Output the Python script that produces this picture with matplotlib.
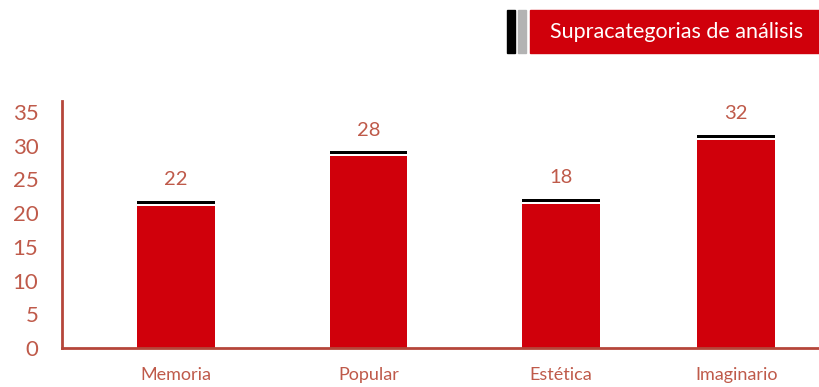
import matplotlib.pyplot as plt
from matplotlib.patches import Rectangle

categories = ["Memoria", "Popular", "Estética", "Imaginario"]
bar_heights = [21.0, 28.4, 21.4, 30.8]
value_labels = ["22", "28", "18", "32"]
yticks = [0, 5, 10, 15, 20, 25, 30, 35]
title = "Supracategorias de análisis"

positions = [0, 1, 2, 2.91]
red = "#d0000b"
axis_col = "#b5463a"
text_col = "#bf5a4a"
font = ["Lato", "DejaVu Sans"]
plt.rcParams['font.family'] = font

fig = plt.figure(figsize=(8.2, 3.87), dpi=100)
ax = fig.add_axes([62 / 820, 39 / 387, 1 - 62 / 820, (348 - 101) / 387])

w = 0.405
ax.bar(positions, bar_heights, width=w, color=red, zorder=2)
caps = [h + 0.3 for h in bar_heights]
ax.bar(positions, [0.45] * 4, bottom=caps, width=w, color="black", zorder=2)

for x, h, lab in zip(positions, bar_heights, value_labels):
    ax.text(x, h + 3.9, lab, ha="center", va="center", fontsize=14.5,
            color=text_col)

ax.set_xlim(-0.592, 3.345)
ax.set_ylim(0, 36.6)
ax.set_yticks(yticks)
ax.set_yticklabels([str(t) for t in yticks], fontsize=16, color=text_col)
ax.set_xticks(positions)
ax.set_xticklabels(categories, fontsize=13, color=text_col)
ax.tick_params(axis="both", length=0)
ax.tick_params(axis="y", pad=17)
ax.tick_params(axis="x", pad=14)

for s in ["top", "right"]:
    ax.spines[s].set_visible(False)
for s in ["left", "bottom"]:
    ax.spines[s].set_color(axis_col)
    ax.spines[s].set_linewidth(2)

# title box at top right
H = 387
fig.patches.append(Rectangle((507 / 820, 1 - 53 / H), 8 / 820, 43 / H,
                             transform=fig.transFigure, color="black"))
fig.patches.append(Rectangle((518 / 820, 1 - 53 / H), 8 / 820, 43 / H,
                             transform=fig.transFigure, color="#b3b3b3"))
fig.patches.append(Rectangle((530 / 820, 1 - 53 / H), 290 / 820, 43 / H,
                             transform=fig.transFigure, color=red))
fig.text(677 / 820, 1 - 31.5 / H, title, ha="center", va="center", fontsize=15.5,
         color="white")

fig.savefig("out.png", dpi=100)
